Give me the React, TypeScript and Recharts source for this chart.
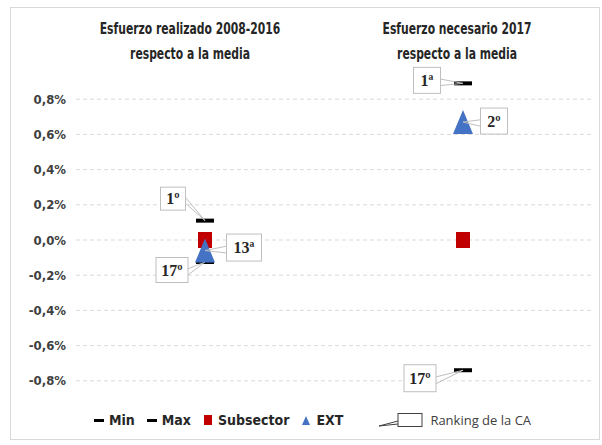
import { ComposedChart, Scatter, XAxis, YAxis, CartesianGrid, Legend } from "recharts";

const categories = ["Esfuerzo realizado 2008-2016", "Esfuerzo necesario 2017"];
const subtitle = "respecto a la media";
const minValues = [-0.125, -0.74];
const maxValues = [0.11, 0.89];
const subsectorValues = [0, 0];
const extValues = [-0.06, 0.67];
const minRanks = ["17º", "17º"];
const maxRanks = ["1º", "1ª"];
const extRanks = ["13ª", "2º"];
const yTicks = [-0.8, -0.6, -0.4, -0.2, 0, 0.2, 0.4, 0.6, 0.8];

const data = categories.map((cat, i) => ({
  cat,
  min: minValues[i],
  max: maxValues[i],
  sub: subsectorValues[i],
  ext: extValues[i],
  minRank: minRanks[i],
  maxRank: maxRanks[i],
  extRank: extRanks[i],
}));

// callout box placement relative to the marker, per category
const callouts: Record<string, { dx: number; dy: number; w: number; h: number }[]> = {
  min: [
    { dx: -33, dy: 8, w: 32, h: 25 },
    { dx: -43, dy: 8, w: 32, h: 27 },
  ],
  max: [
    { dx: -32, dy: -22, w: 25, h: 23 },
    { dx: -36, dy: -3, w: 27, h: 26 },
  ],
  ext: [
    { dx: 39, dy: -3, w: 35, h: 27 },
    { dx: 31, dy: -1, w: 27, h: 26 },
  ],
};

const titleDx = [-15, -6];
const legendOrder = ["min", "max", "sub", "ext"];

const RED = "#c00000";
const BLUE = "#4472c4";
const TEXT = "#262626";
const FONT = "'DejaVu Sans Condensed', 'Liberation Sans', sans-serif";

function Callout({ cx, cy, box, text }: { cx: number; cy: number; box: { dx: number; dy: number; w: number; h: number }; text: string }) {
  const bx = cx + box.dx - box.w / 2;
  const by = cy + box.dy - box.h / 2;
  // tail leaves from the box side that faces the marker
  const toRight = box.dx < 0;
  const ex = toRight ? bx + box.w : bx;
  const ey1 = by + box.h * 0.45;
  const ey2 = by + box.h * 0.7;
  return (
    <g>
      <polyline points={`${ex},${ey1} ${cx},${cy} ${ex},${ey2}`} fill="none" stroke="#bfbfbf" strokeWidth={1} />
      <rect x={bx} y={by} width={box.w} height={box.h} fill="#fff" stroke="#bfbfbf" strokeWidth={1} />
      <text
        x={bx + box.w / 2}
        y={by + box.h / 2 + 5.5}
        textAnchor="middle"
        fontFamily="'Liberation Serif', 'DejaVu Serif', serif"
        fontWeight="bold"
        fontSize={16}
        fill="#262626"
      >
        {text}
      </text>
    </g>
  );
}

function dashShape(key: "min" | "max") {
  return (props: any) => {
    const { cx, cy, payload } = props;
    const i = categories.indexOf(payload.cat);
    return (
      <g>
        <rect x={cx - 9} y={cy - 2} width={18} height={4} fill="#000" />
        <Callout cx={cx} cy={cy} box={callouts[key][i]} text={payload[key + "Rank"]} />
      </g>
    );
  };
}

function squareShape(props: any) {
  const { cx, cy } = props;
  return <rect x={cx - 7} y={cy - 8} width={14} height={16} fill={RED} />;
}

function triangleShape(props: any) {
  const { cx, cy, payload } = props;
  const i = categories.indexOf(payload.cat);
  return (
    <g>
      <polygon points={`${cx},${cy - 12} ${cx - 10},${cy + 12} ${cx + 10},${cy + 12}`} fill={BLUE} />
      <Callout cx={cx} cy={cy} box={callouts.ext[i]} text={payload.extRank} />
    </g>
  );
}

function TitleTick(props: any) {
  const { x, y, payload, index } = props;
  const dx = titleDx[index] ?? 0;
  return (
    <g transform={`translate(${x + dx},${y}) scale(0.8,1)`}>
      <text x={0} y={-22} textAnchor="middle" fontFamily={FONT} fontWeight="bold" fontSize={15} fill={TEXT}>
        {payload.value}
      </text>
      <text x={0} y={3} textAnchor="middle" fontFamily={FONT} fontWeight="bold" fontSize={15} fill={TEXT}>
        {subtitle}
      </text>
    </g>
  );
}

const legendSymbols: Record<string, string> = { min: "dash", max: "dash", sub: "square", ext: "triangle" };

function LegendContent(props: any) {
  const payload = [...(props.payload || [])].sort(
    (a: any, b: any) => legendOrder.indexOf(a.dataKey) - legendOrder.indexOf(b.dataKey)
  );
  return (
    <div style={{ display: "flex", alignItems: "center", paddingLeft: 93, fontFamily: FONT, fontWeight: "bold", fontSize: 14, color: TEXT }}>
      {payload.map((entry: any) => {
        const kind = legendSymbols[entry.dataKey];
        return (
          <span key={entry.dataKey} style={{ display: "flex", alignItems: "center", marginRight: 11 }}>
            <svg width={12} height={14} style={{ marginRight: 4 }}>
              {kind === "dash" && <rect x={1} y={6} width={10} height={3} fill="#000" />}
              {kind === "square" && <rect x={2} y={2} width={8} height={10} fill={RED} />}
              {kind === "triangle" && <polygon points="6,3 2,12 10,12" fill={BLUE} />}
            </svg>
            {entry.value}
          </span>
        );
      })}
      <span style={{ display: "flex", alignItems: "center", marginLeft: 24 }}>
        <svg width={46} height={16} style={{ marginRight: 6 }}>
          <polyline points="20,9 1,14 20,12" fill="none" stroke="#404040" strokeWidth={1} />
          <rect x={20} y={1.5} width={24} height={13} fill="#fff" stroke="#404040" strokeWidth={1} />
        </svg>
        <span style={{ fontFamily: "'Open Sans', sans-serif", fontWeight: "normal", fontSize: 13, color: "#404040" }}>
          Ranking de la CA
        </span>
      </span>
    </div>
  );
}

export default function App() {
  return (
    <div style={{ position: "absolute", left: 0, top: 0, width: 602, height: 445, background: "#fff" }}>
      <div style={{ position: "absolute", left: 10, top: 7, width: 590, height: 433, border: "1px solid #d9d9d9", boxSizing: "border-box" }} />
      <ComposedChart width={602} height={445} data={data} margin={{ top: 0, right: 10, bottom: 29, left: 10 }}>
        <CartesianGrid vertical={false} horizontalValues={yTicks} stroke="#d9d9d9" strokeDasharray="4 3" />
        <XAxis
          dataKey="cat"
          type="category"
          orientation="top"
          axisLine={false}
          tickLine={false}
          height={64}
          interval={0}
          padding={{ left: 129, right: 129 }}
          tick={<TitleTick />}
        />
        <YAxis
          type="number"
          domain={[-1, 1]}
          ticks={yTicks}
          axisLine={false}
          tickLine={false}
          width={66}
          tickMargin={4}
          tick={{ fontFamily: FONT, fontWeight: "bold", fontSize: 13, fill: "#404040" }}
          tickFormatter={(v: number) => `${v.toFixed(1).replace(".", ",")}%`}
        />
        <Scatter name="Min" dataKey="min" fill="#000" shape={dashShape("min")} isAnimationActive={false} />
        <Scatter name="Max" dataKey="max" fill="#000" shape={dashShape("max")} isAnimationActive={false} />
        <Scatter name="Subsector" dataKey="sub" fill={RED} shape={squareShape} isAnimationActive={false} />
        <Scatter name="EXT" dataKey="ext" fill={BLUE} shape={triangleShape} isAnimationActive={false} />
        <Legend
          layout="horizontal"
          verticalAlign="middle"
          align="center"
          content={<LegendContent />}
          wrapperStyle={{ top: 411, left: 0, width: 602 }}
        />
      </ComposedChart>
    </div>
  );
}
